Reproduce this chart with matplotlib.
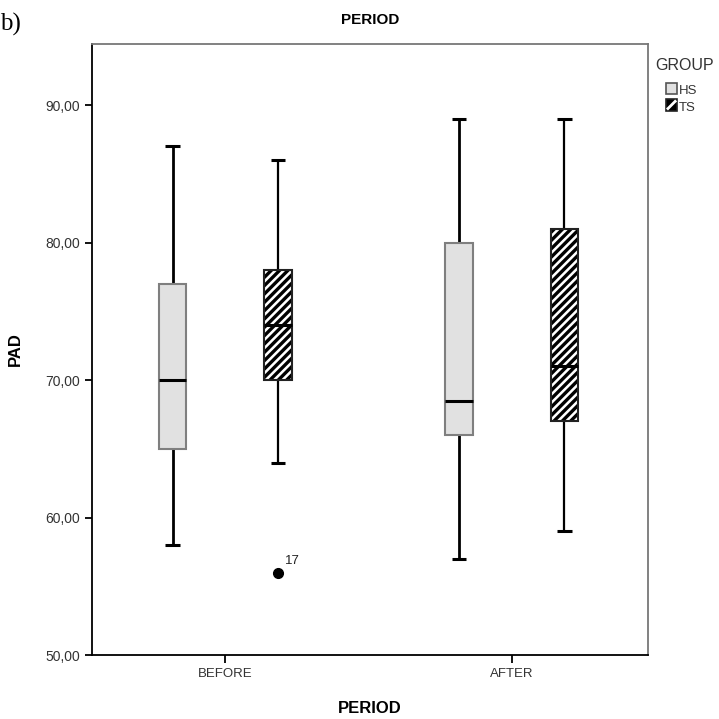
import matplotlib.pyplot as plt
import numpy as np
from matplotlib.patches import Rectangle
from matplotlib.lines import Line2D

plt.rcParams['font.family'] = ['Liberation Sans', 'DejaVu Sans']
plt.rcParams['hatch.linewidth'] = 2.4

# data
periods = ["BEFORE", "AFTER"]
groups = ["HS", "TS"]
# per group: values for BEFORE, AFTER
whisk_lo = {"HS": [58, 57], "TS": [64, 59]}
q1 = {"HS": [65, 66], "TS": [70, 67]}
med = {"HS": [70, 68.5], "TS": [74, 71]}
q3 = {"HS": [77, 80], "TS": [78, 81]}
whisk_hi = {"HS": [87, 89], "TS": [86, 89]}
outliers = {"TS": [(0, 56, "17")]}
yticks = [50, 60, 70, 80, 90]

fig = plt.figure(figsize=(7.19, 7.19), dpi=100)
ax = fig.add_axes([0.128, 0.089, 0.773, 0.850])

x = np.arange(len(periods))
off = 0.184
bw = 0.095
capw = 0.05

for gi, g in enumerate(groups):
    xs = x + (off if gi else -off)
    lo = np.array(q1[g])
    hi = np.array(q3[g])
    if g == "HS":
        ax.bar(xs, hi - lo, bw, bottom=lo, color="#e1e1e1",
               edgecolor="#7f7f7f", linewidth=1.5, zorder=2)
        wl = 2.0
    else:
        # white face + thick black hatch = black box with thin white stripes
        ax.bar(xs, hi - lo, bw, bottom=lo, color="white", edgecolor="black",
               hatch="////", linewidth=0, zorder=2)
        ax.bar(xs, hi - lo, bw, bottom=lo, fill=False,
               edgecolor="#222222", linewidth=1.5, zorder=3)
        wl = 1.6
    ax.vlines(xs, whisk_lo[g], lo, color="black", lw=wl, zorder=1)
    ax.vlines(xs, hi, whisk_hi[g], color="black", lw=wl, zorder=1)
    ax.hlines(whisk_lo[g], xs - capw / 2, xs + capw / 2, color="black", lw=2.2, zorder=1)
    ax.hlines(whisk_hi[g], xs - capw / 2, xs + capw / 2, color="black", lw=2.2, zorder=1)
    ax.hlines(med[g], xs - bw / 2, xs + bw / 2, color="black", lw=2.2, zorder=4)
    for pi, val, lab in outliers.get(g, []):
        ox = x[pi] + (off if gi else -off)
        ax.plot(ox, val, "o", color="black", ms=7, zorder=4)
        ax.annotate(lab, (ox, val), xytext=(5, 6), textcoords="offset points",
                    fontsize=9.5, color="#222222")

ax.set_xlim(-0.465, 1.475)
ax.set_ylim(50, 94.45)
ax.set_yticks(yticks)
ax.set_yticklabels([f"{v:.2f}".replace(".", ",") for v in yticks], fontsize=10, color="#333333")
ax.set_xticks(x)
ax.set_xticklabels(periods, fontsize=9.5, color="#333333")
ax.tick_params(axis="y", length=5, width=1.3)
ax.tick_params(axis="x", length=6, width=1.3)
ax.spines["left"].set_color("black")
ax.spines["bottom"].set_color("black")
ax.spines["top"].set_color("#777777")
ax.spines["right"].set_color("#777777")
for s in ax.spines.values():
    s.set_linewidth(1.3)

ax.set_xlabel("PERIOD", fontsize=12, fontweight="bold", labelpad=15)
ax.set_ylabel("PAD", fontsize=12, fontweight="bold", labelpad=16)
ax.set_title("PERIOD", fontsize=11, fontweight="bold", pad=14)

fig.text(0.0, 0.958, "b)", fontsize=18, family="Liberation Serif")

# legend
fig.text(0.911, 0.903, "GROUP", fontsize=11.5, color="#333333")
fig.patches.append(Rectangle((0.926, 0.869), 0.016, 0.016, transform=fig.transFigure,
                             facecolor="#e1e1e1", edgecolor="#555555", lw=1.2))
fig.patches.append(Rectangle((0.926, 0.846), 0.016, 0.016, transform=fig.transFigure,
                             facecolor="black", edgecolor="#222222", lw=1.2))
fig.lines.append(Line2D([0.929, 0.939], [0.849, 0.859], transform=fig.transFigure,
                        color="white", lw=2))
fig.text(0.944, 0.869, "HS", fontsize=9.5, color="#333333")
fig.text(0.944, 0.846, "TS", fontsize=9.5, color="#333333")

fig.savefig("out.png", dpi=100)
